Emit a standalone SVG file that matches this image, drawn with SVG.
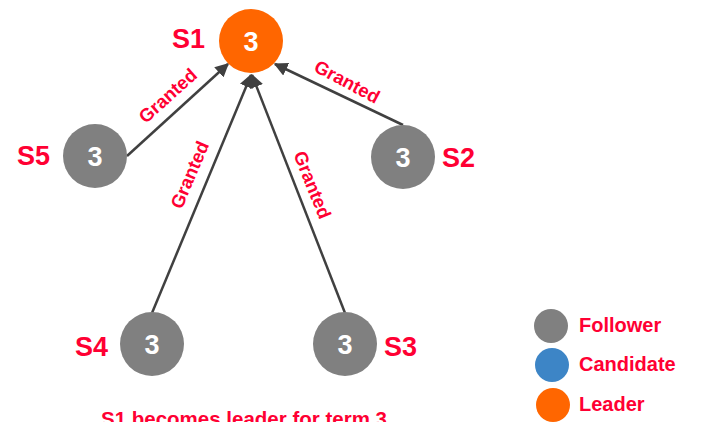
<svg xmlns="http://www.w3.org/2000/svg" width="702" height="422" viewBox="0 0 702 422">
  <defs>
    <marker id="arrow" viewBox="0 0 10 10" refX="9" refY="5" markerWidth="5.5" markerHeight="5.5" orient="auto" markerUnits="strokeWidth">
      <path d="M0,0 L10,5 L0,10 Z" fill="#404040"/>
    </marker>
    <style>
      .node-follower { fill: #808080; }
      .node-candidate { fill: #3d85c6; }
      .node-leader { fill: #ff6600; }
      .term { font-family: "Liberation Sans", Arial, sans-serif; font-weight: bold; font-size: 27px; fill: #ffffff; text-anchor: middle; }
      .name { font-family: "Liberation Sans", Arial, sans-serif; font-weight: bold; font-size: 27px; fill: #ff0033; }
      .edge { stroke: #404040; stroke-width: 2.5; fill: none; marker-end: url(#arrow); }
      .edge-label { font-family: "Liberation Sans", Arial, sans-serif; font-weight: bold; font-size: 18.5px; fill: #ff0033; text-anchor: middle; }
      .legend-text { font-family: "Liberation Sans", Arial, sans-serif; font-weight: bold; font-size: 20px; fill: #ff0033; }
      .caption { font-family: "Liberation Sans", Arial, sans-serif; font-weight: bold; font-size: 20.5px; fill: #ff0033; }
    </style>
  </defs>

  <rect width="702" height="422" fill="#ffffff"/>

  <!-- vote connectors -->
  <g id="connectors">
    <line class="edge" x1="127" y1="156" x2="228" y2="64"/>
    <line class="edge" x1="403" y1="125" x2="275" y2="64"/>
    <line class="edge" x1="152" y1="313" x2="251" y2="75"/>
    <line class="edge" x1="345" y1="313" x2="252" y2="75"/>
    <text class="edge-label" transform="translate(168,96) rotate(-42)" y="6">Granted</text>
    <text class="edge-label" transform="translate(347,82) rotate(28)" y="6">Granted</text>
    <text class="edge-label" transform="translate(190,175) rotate(-67)" y="6">Granted</text>
    <text class="edge-label" transform="translate(312,185) rotate(68)" y="6">Granted</text>
  </g>

  <g id="S1">
    <circle class="node-leader" cx="251" cy="41" r="32"/>
    <text class="term" x="251" y="51">3</text>
    <text class="name" x="172" y="48">S1</text>
  </g>
  <g id="S2">
    <circle class="node-follower" cx="403" cy="157" r="32"/>
    <text class="term" x="403" y="167">3</text>
    <text class="name" x="442" y="167">S2</text>
  </g>
  <g id="S3">
    <circle class="node-follower" cx="345" cy="344" r="32"/>
    <text class="term" x="345" y="354">3</text>
    <text class="name" x="384" y="356">S3</text>
  </g>
  <g id="S4">
    <circle class="node-follower" cx="152" cy="344" r="32"/>
    <text class="term" x="152" y="354">3</text>
    <text class="name" x="75" y="356">S4</text>
  </g>
  <g id="S5">
    <circle class="node-follower" cx="95" cy="156" r="32"/>
    <text class="term" x="95" y="166">3</text>
    <text class="name" x="17" y="165">S5</text>
  </g>

  <g id="legend">
    <circle class="node-follower" cx="551" cy="326" r="17"/>
    <text class="legend-text" x="579" y="332">Follower</text>
    <circle class="node-candidate" cx="552" cy="365" r="17"/>
    <text class="legend-text" x="579" y="371">Candidate</text>
    <circle class="node-leader" cx="553" cy="405" r="17"/>
    <text class="legend-text" x="579" y="411">Leader</text>
  </g>

  <text id="caption" class="caption" x="101" y="426">S1 becomes leader for term 3</text>
</svg>
